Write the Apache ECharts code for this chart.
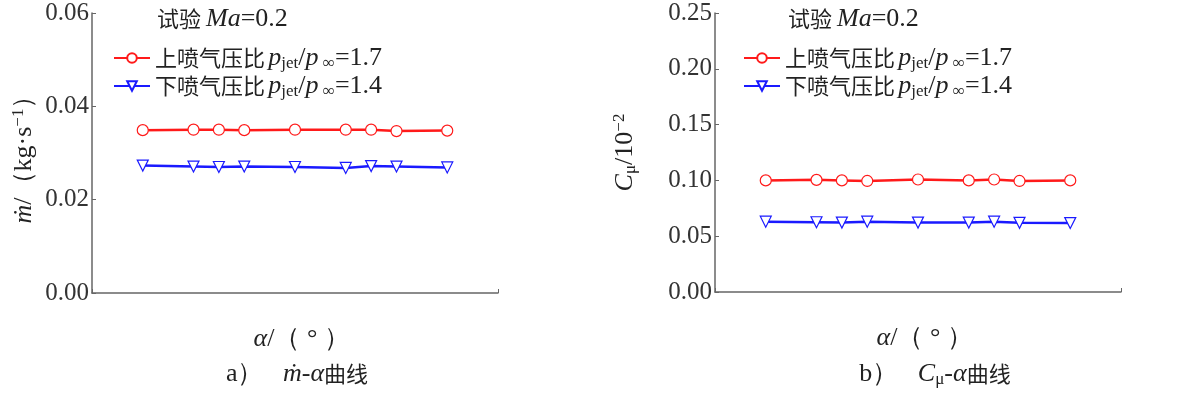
<!DOCTYPE html>
<html>
<head>
<meta charset="utf-8">
<script src="https://cdn.jsdelivr.net/npm/echarts@6/dist/echarts.min.js"></script>
<style>
  html, body { margin: 0; padding: 0; background: #fff; }
  #chart { width: 1200px; height: 395px; }
</style>
</head>
<body>
<div id="chart"></div>
<script>
// 攻角（图中无刻度，取等比位置）
const alpha = [-4, 0, 2, 4, 8, 12, 14, 16, 20]
// a) 质量流量 kg/s
const massUpper = [0.0349, 0.0350, 0.0350, 0.0349, 0.0350, 0.0350, 0.0350, 0.0347, 0.0348]
const massLower = [0.0273, 0.0271, 0.0270, 0.0271, 0.0270, 0.0268, 0.0272, 0.0271, 0.0269]
// b) 动量系数 /10^-2
const cmuUpper = [0.100, 0.1005, 0.100, 0.0995, 0.1008, 0.100, 0.1008, 0.0995, 0.100]
const cmuLower = [0.063, 0.0625, 0.0622, 0.063, 0.0622, 0.0622, 0.063, 0.062, 0.0618]
const massTicks = { min: 0, max: 0.06, interval: 0.02 }
const cmuTicks = { min: 0, max: 0.25, interval: 0.05 }

const upperName = '上喷气压比'
const lowerName = '下喷气压比'
const legendText = {
    [upperName]: '{cn|上喷气压比} {i|p}{sub|jet}{n|/}{i|p}{sub| ∞}{n|=1.7}',
    [lowerName]: '{cn|下喷气压比} {i|p}{sub|jet}{n|/}{i|p}{sub| ∞}{n|=1.4}'
}

const serif = '"Liberation Serif", "DejaVu Serif", serif'
const cjk = '"Noto Sans CJK SC", sans-serif'
const ink = '#222'
const richStyle = {
    cn: { fontFamily: cjk, fontSize: 22, fontWeight: 'normal', color: ink, lineHeight: 28 },
    i: { fontFamily: serif, fontStyle: 'italic', fontSize: 26, fontWeight: 'normal', color: ink, lineHeight: 28 },
    n: { fontFamily: serif, fontSize: 26, fontWeight: 'normal', color: ink, lineHeight: 28 },
    sub: { fontFamily: serif, fontSize: 17, fontWeight: 'normal', color: ink, verticalAlign: 'bottom', lineHeight: 28 },
    sup: { fontFamily: serif, fontSize: 17, fontWeight: 'normal', color: ink, verticalAlign: 'top', lineHeight: 28 }
}

const axisGrey = '#666'

function xAxisOf(gridIndex) {
    return {
        type: 'value', gridIndex: gridIndex,
        min: -8, max: 24, interval: 32,
        name: '    {i|α}{n|/（ ° ）}',
        nameLocation: 'middle', nameGap: 32,
        nameTextStyle: { rich: richStyle },
        axisLine: { lineStyle: { color: axisGrey, width: 1.5 } },
        axisTick: { inside: true, length: 4, lineStyle: { color: axisGrey } },
        axisLabel: { show: false },
        splitLine: { show: false }
    }
}

function yAxisOf(gridIndex, ticks, name, gap) {
    return {
        type: 'value', gridIndex: gridIndex,
        min: ticks.min, max: ticks.max, interval: ticks.interval,
        name: name, nameLocation: 'middle', nameGap: gap,
        nameTextStyle: { rich: richStyle },
        axisLine: { show: true, onZero: false, lineStyle: { color: axisGrey, width: 1.5 } },
        axisTick: { show: true, inside: true, length: 4, lineStyle: { color: axisGrey } },
        axisLabel: {
            margin: 3,
            fontFamily: serif, fontSize: 25, color: '#333',
            formatter: v => v.toFixed(2)
        },
        splitLine: { show: false }
    }
}

function seriesOf(name, xIdx, values, color, symbol) {
    return {
        name: name, type: 'line',
        xAxisIndex: xIdx, yAxisIndex: xIdx,
        data: alpha.map((a, i) => [a, values[i]]),
        symbol: symbol, symbolSize: 11,
        symbolRotate: symbol === 'triangle' ? 180 : 0,
        lineStyle: { color: color, width: 2.5 },
        itemStyle: { color: '#fff', borderColor: color, borderWidth: 1.2 },
        emphasis: { disabled: true }
    }
}

function legendOf(left) {
    return {
        orient: 'vertical', left: left, top: 40,
        itemWidth: 36, itemHeight: 12, itemGap: 1,
        data: [upperName, lowerName],
        formatter: name => legendText[name],
        textStyle: { rich: richStyle },
        selectedMode: false
    }
}

const chart = echarts.init(document.getElementById('chart'))
chart.setOption({
    animation: false,
    title: [
        { text: '{cn|试验} {i|Ma}{n|=0.2}', left: 152, top: 0, textStyle: { rich: richStyle } },
        { text: '{cn|试验} {i|Ma}{n|=0.2}', left: 783, top: 0, textStyle: { rich: richStyle } },
        { text: '{n|a）   }{i|ṁ}{n|-}{i|α}{cn|曲线}', left: 292, top: 355, textAlign: 'center', textStyle: { rich: richStyle } },
        { text: '{n|b）   }{i|C}{sub|μ}{n|-}{i|α}{cn|曲线}', left: 930, top: 355, textAlign: 'center', textStyle: { rich: richStyle } }
    ],
    legend: [legendOf(108), legendOf(738)],
    grid: [
        { left: 92, right: 702, top: 13, bottom: 102 },
        { left: 715, right: 79, top: 13, bottom: 103 }
    ],
    xAxis: [xAxisOf(0), xAxisOf(1)],
    yAxis: [
        yAxisOf(0, massTicks, '{i|ṁ}{n|/（kg·s}{sup|−1}{n|）}', 54),
        yAxisOf(1, cmuTicks, '{i|C}{sub|μ}{n|/10}{sup|−2}', 76)
    ],
    series: [
        seriesOf(upperName, 0, massUpper, '#ff1a1a', 'circle'),
        seriesOf(lowerName, 0, massLower, '#1a1aff', 'triangle'),
        seriesOf(upperName, 1, cmuUpper, '#ff1a1a', 'circle'),
        seriesOf(lowerName, 1, cmuLower, '#1a1aff', 'triangle')
    ]
})
</script>
</body>
</html>
